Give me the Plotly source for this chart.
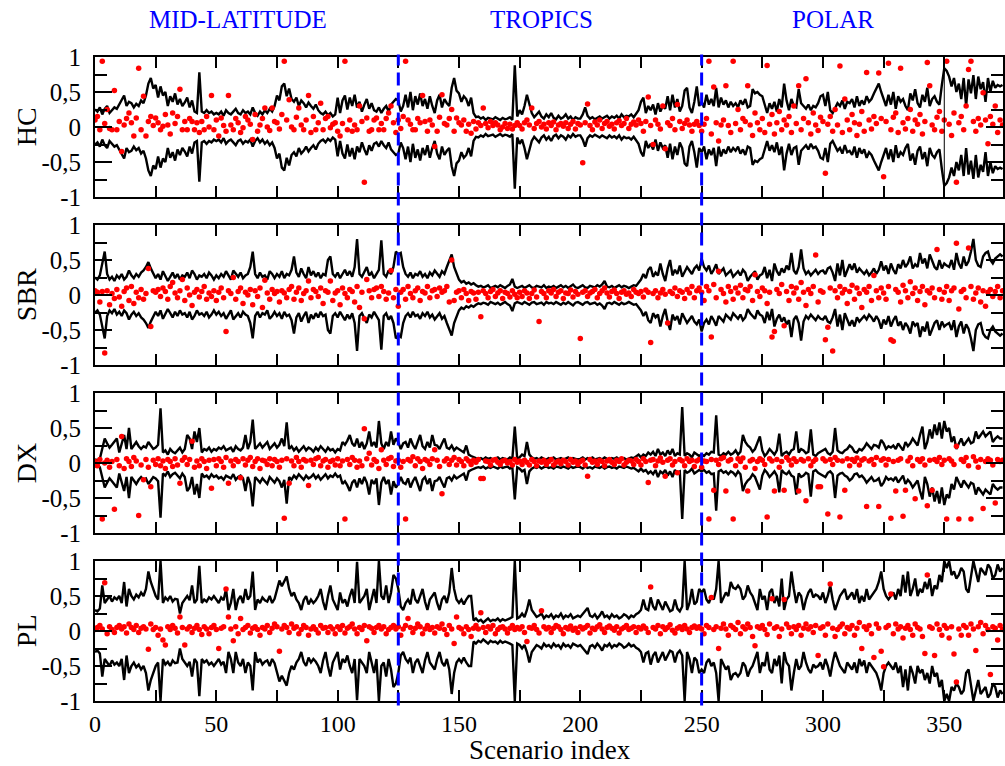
import plotly.graph_objects as go
from plotly.subplots import make_subplots

# ---------------- data (values x100) ----------------
panels = ["HC", "SBR", "DX", "PL"]
regions = ["MID-LATITUDE", "TROPICS", "POLAR"]
region_x = [59, 184, 304]
region_bounds = [125, 250]
y_tickvals = [-1, -0.5, 0, 0.5, 1]
y_ticktext = ["-1", "-0,5", "0", "0,5", "1"]
x_tickvals = [0, 50, 100, 150, 200, 250, 300, 350]

HC_env = [
25,22,28,18,26,30,20,24,28,26,32,40,45,30,36,34,28,33,30,38,34,45,62,70,55,
60,42,58,45,50,30,44,36,48,32,40,30,35,42,28,38,22,20,78,22,20,24,20,22,18,
20,18,22,16,24,20,18,22,26,20,18,24,20,22,18,28,20,16,22,18,24,20,26,22,30,
45,38,58,62,44,55,40,36,42,30,38,34,28,35,30,26,32,24,20,18,22,17,20,15,18,
42,20,38,45,25,42,30,46,28,36,22,32,40,26,34,24,22,28,20,26,30,22,32,36,40,
38,22,30,46,28,50,24,44,32,48,30,40,26,44,30,20,38,46,28,40,34,30,56,70,52,
48,36,44,40,30,42,20,14,15,12,14,10,13,12,11,14,12,10,13,11,12,14,10,88,15,
24,18,30,46,32,20,14,18,22,15,12,18,14,20,13,11,16,12,14,18,12,15,10,14,12,
12,18,28,16,12,14,11,13,15,12,14,16,12,15,13,16,12,18,14,16,15,18,14,20,24,
36,42,20,30,24,32,18,34,22,30,26,44,24,46,28,40,22,30,52,56,28,20,36,58,30,
36,28,46,32,40,30,56,28,42,32,38,28,36,30,34,28,38,32,40,28,30,54,48,50,46,
44,30,20,34,26,36,22,40,28,62,38,24,40,30,28,54,34,30,26,32,24,30,28,34,44,
46,30,50,24,20,26,34,30,38,26,36,34,40,28,44,30,38,32,44,36,40,48,56,62,50,
40,30,46,32,50,26,44,36,40,30,24,48,38,54,34,28,46,36,56,30,40,44,36,32,60,
84,80,72,58,70,50,62,40,70,30,68,48,74,40,72,54,64,36,70,50,66,56,60,58,60]

HC_dots = [
10,15,-4,94,5,25,-2,-4,52,-4,8,-35,3,12,20,6,-13,13,84,-4,44,-13,8,15,2,
13,6,-4,1,18,3,-10,20,5,15,54,-4,8,-4,12,8,-4,6,-8,8,-4,15,0,45,-4,
10,-13,13,2,-6,45,3,-4,12,6,-8,-1,15,10,4,-18,18,-6,3,12,27,0,-5,27,8,
6,-3,18,94,10,39,0,-4,14,27,3,-4,10,45,-8,15,-4,6,34,-4,12,15,-1,4,6,
-6,-13,5,94,-4,10,-6,3,-4,30,8,-79,13,-6,-4,10,13,-4,5,-4,12,20,30,6,-8,
10,-2,15,94,10,4,-4,-4,12,6,45,8,-6,10,3,-28,-6,14,46,5,3,12,25,-6,13,
6,3,10,-6,4,-9,8,-3,6,2,27,5,-1,8,2,6,3,-4,0,5,-2,4,-3,2,6,
2,-3,6,10,3,27,-2,5,8,0,4,-3,6,2,7,-4,3,5,1,6,-2,4,8,-3,5,
3,-51,6,33,2,-4,7,3,10,-2,5,8,1,4,-3,6,9,2,5,12,-2,4,7,3,10,
5,-6,8,43,2,-25,10,4,-3,30,-31,6,2,12,-4,32,8,-2,5,10,3,-6,4,8,2,
-6,4,12,94,-10,57,6,-20,3,10,59,2,-8,94,5,25,-4,12,8,59,3,-12,20,6,-4,
12,-8,88,4,18,-10,6,22,-4,10,3,15,-8,30,5,59,-4,12,69,6,-10,20,3,-5,14,
8,-66,4,15,-6,25,3,87,-8,40,10,-4,18,6,-12,4,22,-6,78,10,-3,15,5,77,12,
-71,8,91,-4,14,20,-8,84,6,-3,12,25,-6,10,4,18,-10,8,92,59,3,-4,14,22,-6,
10,94,4,-12,20,-79,6,15,-4,30,82,94,8,-6,12,3,49,10,-24,15,4,30,-8,10,3]

SBR_env = [
25,22,28,45,62,30,22,26,20,28,24,30,22,26,35,28,24,30,26,32,35,40,47,38,30,
24,30,22,34,28,20,26,32,24,30,22,28,26,32,24,35,30,22,28,26,30,24,32,28,22,
28,24,30,26,34,28,22,35,30,26,32,24,28,30,40,62,30,24,32,26,28,22,34,30,24,
30,26,34,24,30,28,36,55,32,26,38,30,24,40,28,34,26,32,24,30,28,50,55,30,26,
32,24,30,36,28,34,26,40,80,30,26,34,40,28,32,24,30,36,78,30,26,35,30,40,62,
58,60,40,30,26,32,24,30,28,34,26,30,24,32,28,35,30,26,34,30,40,50,58,40,30,
22,18,20,16,18,15,17,14,12,13,11,12,14,10,12,13,11,14,12,10,13,15,23,12,10,
11,13,10,12,14,11,10,13,12,11,14,10,12,11,13,10,12,14,11,13,10,12,15,11,10,
12,14,11,10,13,12,11,14,12,15,20,12,11,13,10,12,14,11,13,12,10,12,14,13,18,
22,30,24,36,40,26,32,28,45,30,20,38,50,28,36,30,42,26,34,40,35,30,38,42,35,
52,40,35,42,30,36,44,30,34,38,28,32,35,26,30,34,28,36,32,20,26,30,34,22,28,
30,40,24,36,20,45,34,28,38,32,42,36,60,35,30,40,65,38,30,34,28,32,36,30,34,
35,30,38,40,32,20,45,28,50,26,35,44,36,45,32,38,34,30,35,28,32,38,30,36,48,
35,42,30,45,36,30,44,38,50,40,45,55,38,44,40,60,45,52,38,58,48,40,36,50,38,
45,42,40,50,36,60,45,38,55,42,48,62,80,50,42,40,55,60,62,50,45,52,55,58,55]

SBR_dots = [
6,4,-10,5,-83,6,-14,2,-5,8,-3,-16,5,10,-8,12,-12,4,-4,8,-6,2,38,-45,6,
4,8,-2,10,5,-6,12,18,3,-4,6,22,-8,10,0,-15,4,8,-3,5,12,-6,3,-2,6,
-8,4,10,-4,-52,6,2,25,-6,5,10,-12,4,0,8,-14,6,-2,10,-18,21,3,-6,8,2,
5,-10,6,3,-4,8,12,-6,4,10,-8,2,6,20,-4,8,5,-2,10,-12,6,4,20,-8,3,
6,-14,10,2,-4,8,5,-10,12,-18,4,-34,22,6,-4,8,10,-2,12,5,-6,3,35,-4,8,
-16,4,8,-6,12,2,-4,6,10,-8,5,3,12,-4,6,8,-2,10,4,6,12,-10,50,-8,4,
6,-4,8,2,-8,5,3,-6,4,-31,6,2,-4,5,8,-2,3,6,-5,4,2,-3,6,1,-4,
4,-2,6,3,-5,2,7,-3,-38,5,2,-4,6,3,8,-2,4,6,-5,3,2,7,-3,5,1,
-62,4,6,-2,3,5,8,-4,2,6,10,3,-3,5,7,2,-5,4,6,1,3,-2,8,4,2,
5,-3,7,4,-68,2,6,-4,3,8,1,-40,5,2,10,-2,6,4,-5,8,3,12,-4,6,10,
4,-8,12,6,-60,15,-4,34,8,2,-10,12,5,-6,10,3,14,-4,8,6,12,-8,29,5,-2,
10,6,-12,4,-60,-52,8,2,15,-44,5,-8,12,3,10,-6,18,4,-15,8,2,12,57,-10,6,
4,-64,-46,10,-80,6,-4,12,3,8,-12,5,14,-6,10,2,-18,8,4,12,-8,28,6,-4,10,
3,-6,12,-64,-66,8,4,-10,14,6,-4,19,2,10,-8,5,12,-14,6,3,10,-4,65,8,-6,
4,12,-8,6,10,74,-20,5,8,-4,67,12,-6,3,10,-10,6,-16,4,8,-2,5,12,-4,6]

DX_env = [
5,4,6,20,35,28,22,26,30,35,15,28,40,20,50,20,26,30,24,20,24,22,30,24,20,
22,26,78,15,18,12,20,16,14,18,22,15,20,40,35,20,45,30,50,15,20,18,22,16,20,
18,22,20,24,18,20,22,16,24,20,18,22,40,20,30,62,20,24,28,22,26,30,20,24,28,
22,26,35,24,58,20,24,18,22,16,20,24,18,22,20,16,22,18,24,20,16,22,18,20,15,
20,18,30,26,32,40,28,24,35,22,30,20,28,45,24,30,22,60,28,20,30,24,45,26,35,
30,20,28,30,22,35,26,20,30,40,24,20,30,22,40,26,25,20,28,35,22,20,25,18,22,
20,18,15,25,12,10,8,7,6,7,5,8,6,7,5,6,8,5,7,6,5,8,6,52,6,
8,12,10,30,12,8,6,7,5,8,6,5,7,6,8,5,6,7,5,6,8,5,7,6,5,
6,8,5,7,6,8,5,6,7,5,8,6,5,7,6,8,5,6,7,5,6,8,7,10,12,
8,12,10,15,12,16,10,20,12,15,10,18,12,20,10,14,12,80,10,14,12,8,15,12,10,
12,10,14,12,16,15,68,12,10,14,12,16,12,14,18,12,16,40,30,25,22,16,20,28,38,
18,10,14,20,16,12,18,42,10,14,16,12,18,20,45,15,20,18,14,16,48,12,10,14,16,
18,20,14,12,16,50,18,15,14,18,20,25,22,16,15,20,18,22,28,24,20,26,25,22,33,
28,20,24,22,25,20,28,22,18,30,24,28,35,30,25,40,52,20,30,48,35,55,40,58,35,
60,45,50,30,38,20,28,35,25,30,35,28,30,45,35,40,45,38,42,45,30,35,38,35,35]

DX_dots = [
2,-4,5,-80,0,4,-6,2,-66,5,-4,38,-8,6,2,-5,8,3,-75,-3,-24,5,-6,-34,4,
-2,6,-4,3,-8,5,2,-5,6,-3,-29,4,8,-2,5,31,-6,3,-4,6,2,-8,4,-36,5,
-4,6,2,-6,8,-29,3,-4,5,2,-21,6,-3,4,8,-5,2,6,-8,4,3,-2,6,-4,5,
2,-6,4,-79,6,-29,3,-4,8,2,-6,5,3,-32,4,-2,6,8,-4,3,5,-6,2,4,-3,
6,-4,3,-80,5,-2,8,4,-6,3,-4,49,6,14,-3,5,2,-8,19,4,-2,6,8,-5,3,
4,-6,2,-80,5,3,9,-4,6,2,-8,5,3,-2,6,19,4,-5,-44,3,6,-2,4,8,-3,
5,2,-4,6,3,-2,4,1,5,-22,-22,3,2,-3,4,5,1,-2,3,4,0,2,-3,5,1,
3,-2,4,1,-3,5,2,-4,3,1,4,-2,2,5,-3,1,3,-1,4,2,-3,5,1,3,-2,
2,4,-3,-19,5,1,3,-2,4,2,-4,3,5,1,-2,4,2,6,-3,1,4,3,-2,5,2,
-3,6,2,-28,4,5,-4,3,7,1,-19,4,6,-3,2,-14,5,3,-4,6,2,4,-5,3,5,
-6,3,2,-80,5,-39,4,-2,6,8,-40,3,5,-80,-4,6,2,7,-6,-40,3,5,-8,2,6,
4,-2,-77,6,3,-40,5,-6,2,-39,8,4,-3,6,2,-40,5,3,-54,6,-4,2,5,-34,-34,
6,3,-73,5,-2,8,4,-77,3,-39,6,-4,5,2,7,-3,4,6,-62,3,5,-2,8,-62,4,
6,-3,5,-79,2,-40,4,6,-76,-39,3,8,-4,-51,5,2,6,-3,-61,4,-39,5,2,8,-2,
4,-80,6,3,-2,24,-80,5,2,8,-4,-80,9,3,-6,5,-65,2,6,4,-3,-57,5,2,4]

PL_env = [
30,28,32,65,40,45,50,42,48,45,50,40,70,35,60,50,45,52,48,55,50,60,85,70,60,
50,45,100,40,48,44,50,42,46,45,25,40,45,50,44,65,40,45,93,40,45,42,48,45,50,
45,40,48,44,60,30,40,60,30,45,50,40,60,45,50,85,30,45,40,48,44,42,50,40,46,
60,72,64,70,78,60,50,55,45,40,30,44,50,38,45,40,44,50,60,42,30,50,65,45,38,
30,55,40,45,35,50,60,40,99,40,45,50,60,30,45,60,40,100,50,45,65,40,55,80,75,
60,35,30,40,45,38,60,45,40,50,60,42,30,45,50,55,40,30,45,50,40,55,90,60,45,
40,45,38,45,50,50,15,18,14,16,12,15,18,14,16,15,18,14,17,15,16,18,20,100,18,
20,25,20,30,45,30,25,20,22,25,18,22,20,24,18,22,20,25,18,22,20,24,18,20,22,
20,24,28,33,22,20,24,18,22,28,20,22,18,24,20,22,18,20,24,22,18,22,20,24,26,
30,45,32,30,48,35,30,45,38,30,42,35,28,30,45,32,28,35,100,30,40,60,38,42,60,
55,60,45,40,50,45,60,100,40,48,55,50,70,62,60,65,60,45,50,65,55,50,40,30,60,
45,50,30,55,60,40,50,35,75,30,45,50,85,60,40,55,50,30,45,55,60,48,52,50,45,
55,40,50,65,45,30,40,50,55,60,45,50,55,45,60,40,50,42,60,45,50,55,60,70,85,
60,50,45,50,55,45,60,50,80,55,85,50,60,75,50,60,55,70,60,75,50,65,60,80,70,
100,90,100,80,85,75,80,90,85,60,55,80,100,85,70,90,85,80,95,90,75,80,95,85,90]

PL_dots = [
2,5,8,3,69,-4,6,2,-2,5,8,3,6,-3,10,5,2,8,-2,4,6,3,-26,10,2,
5,-6,3,-13,-20,6,2,8,4,-3,20,5,-20,3,6,-2,4,8,2,-5,6,3,-4,5,8,
2,-25,4,6,60,20,3,-14,6,-4,18,2,5,8,-3,4,6,2,-6,5,3,8,-2,4,10,
6,-29,3,8,5,-2,10,4,6,-4,2,8,5,-6,3,6,2,-3,8,4,5,-2,6,3,-4,
6,2,8,-3,4,6,10,3,-4,5,2,8,-14,6,4,-2,5,8,3,6,-4,2,5,8,3,
6,-6,3,8,18,5,-2,4,10,6,-4,3,8,2,5,-3,6,4,10,2,-5,8,3,-18,20,
5,3,-4,6,2,-8,4,8,3,26,5,-2,6,3,8,-4,2,5,6,3,-3,4,8,2,5,
3,6,-2,-15,5,4,8,2,-3,29,6,3,5,-2,4,8,6,2,-4,5,3,7,1,4,-2,
6,3,5,8,-3,4,2,6,9,3,-2,5,7,4,1,6,-3,3,5,8,2,4,6,-2,5,
3,7,4,-2,63,5,3,8,-4,6,2,5,9,1,-3,4,6,2,8,3,-2,5,7,4,6,
3,-4,8,5,48,2,6,-25,4,10,3,-6,8,5,2,12,-4,6,3,10,5,-8,-21,6,4,
8,2,-5,10,46,4,6,-8,3,45,10,5,-4,6,2,8,-6,4,10,3,6,-2,8,-35,4,
6,-6,10,67,4,-8,2,6,10,-4,5,3,8,-6,4,12,-25,6,2,8,-4,-38,10,4,-29,
-51,5,8,53,-4,10,3,6,-10,4,8,2,-6,10,5,3,-8,-32,80,6,4,-35,10,2,-6,
8,4,-10,6,-33,-73,3,-6,8,5,-6,10,3,-28,6,12,-4,8,2,-62,6,4,-13,8,2]

envs = {"HC": HC_env, "SBR": SBR_env, "DX": DX_env, "PL": PL_env}
dots = {"HC": HC_dots, "SBR": SBR_dots, "DX": DX_dots, "PL": PL_dots}

# ---------------- figure ----------------
W, H = 1005, 766
ML, MR, MT, MB = 95, 0, 57, 65
PW, PH = W - ML - MR, H - MT - MB
GAP = 28

fig = make_subplots(rows=4, cols=1, vertical_spacing=GAP / PH)
SERIF = "Liberation Serif"

for r, name in enumerate(panels, start=1):
    env = envs[name]
    xs = list(range(len(env)))
    up = [v / 100 for v in env]
    lo = [-v / 100 for v in env]
    for yy in (up, lo):
        fig.add_trace(go.Scatter(x=xs, y=yy, mode="lines",
                                 line=dict(color="black", width=2.4),
                                 showlegend=False, hoverinfo="skip"), row=r, col=1)
    d = dots[name]
    fig.add_trace(go.Scatter(x=list(range(len(d))), y=[v / 100 for v in d],
                             mode="markers",
                             marker=dict(color="#ff0000", size=5.5, line=dict(width=0)),
                             showlegend=False, hoverinfo="skip"), row=r, col=1)

    fig.update_yaxes(range=[-1, 1], tickmode="array", tickvals=y_tickvals,
                     ticktext=y_ticktext, ticks="inside", ticklen=17, tickwidth=2,
                     tickcolor="black",
                     minor=dict(tickmode="array", tickvals=[-0.75, -0.25, 0.25, 0.75],
                                ticks="inside", ticklen=12, tickwidth=2, tickcolor="black"),
                     showline=True, linewidth=2, linecolor="black", mirror="ticks",
                     showgrid=False, zeroline=False,
                     tickfont=dict(family=SERIF, size=25, color="black"),
                     ticklabelstandoff=7, row=r, col=1)
    fig.update_xaxes(range=[0, 374.2], tickmode="array", tickvals=x_tickvals,
                     ticktext=[str(v) for v in x_tickvals],
                     ticks="inside", ticklen=11, tickwidth=2, tickcolor="black",
                     minor=dict(tickmode="array", tickvals=[25, 75, 125, 175, 225, 275, 325],
                                ticks="inside", ticklen=11, tickwidth=2, tickcolor="black"),
                     showline=True, linewidth=2, linecolor="black", mirror="ticks",
                     showgrid=False, zeroline=False,
                     showticklabels=(r == 4),
                     tickfont=dict(family=SERIF, size=24, color="black"),
                     ticklabelstandoff=0, row=r, col=1)

# region separators
for xb in region_bounds:
    fig.add_shape(type="line", xref="x", yref="paper", x0=xb, x1=xb,
                  y0=-0.007, y1=1.004, layer="above",
                  line=dict(color="#0000ff", width=3, dash="13px,7px"))

# thin vertical line in HC panel at x=350
fig.add_shape(type="line", xref="x", yref="y domain", x0=350, x1=350, y0=0, y1=1,
              layer="above", line=dict(color="black", width=1))

# region titles
for txt, xc in zip(regions, region_x):
    fig.add_annotation(text=txt, xref="x", yref="paper", x=xc, y=(PH + MT - 19) / PH,
                       showarrow=False, xanchor="center", yanchor="middle",
                       font=dict(family=SERIF, size=25, color="#0000ff"))

# y titles
centers = [127, 295, 463, 631]
for name, cy in zip(panels, centers):
    fig.add_annotation(text=name, xref="paper", yref="paper",
                       x=(26 - ML) / PW, y=(MT + PH - cy) / PH, textangle=-90,
                       showarrow=False, xanchor="center", yanchor="middle",
                       font=dict(family=SERIF, size=28, color="black"))

# x title
fig.add_annotation(text="Scenario index", xref="paper", yref="paper",
                   x=(551 - ML) / PW, y=(MT + PH - 750) / PH,
                   showarrow=False, xanchor="center", yanchor="middle",
                   font=dict(family=SERIF, size=27, color="black"))

fig.update_layout(width=W, height=H, margin=dict(l=ML, r=MR, t=MT, b=MB),
                  paper_bgcolor="white", plot_bgcolor="white", showlegend=False)

fig.write_html("out.html")
